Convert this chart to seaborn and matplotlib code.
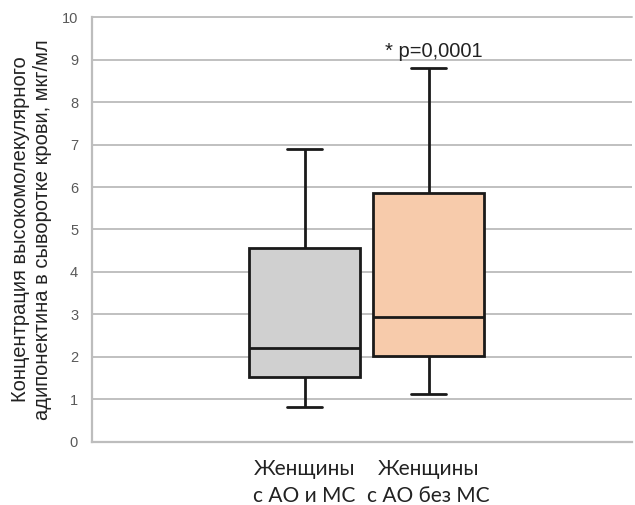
import pandas as pd
import numpy as np
import matplotlib
matplotlib.use('Agg')
import matplotlib.pyplot as plt
import seaborn as sns

# five-number summaries (min, Q1, median, Q3, max)
groups = ['Женщины\nс АО и МС', 'Женщины\nс АО без МС']
group1 = [0.82, 1.52, 2.2, 4.56, 6.9]
group2 = [1.12, 2.02, 2.95, 5.87, 8.8]
colors = ['#d0d0d0', '#f7cbab']
y_ticks = list(range(0, 11))
note = '* p=0,0001'

df = pd.DataFrame({
    'group': [groups[0]] * len(group1) + [groups[1]] * len(group2),
    'value': group1 + group2,
})

sns.set_style('white')
plt.rcParams['font.family'] = ['Liberation Sans', 'DejaVu Sans']

fig = plt.figure(figsize=(6.35, 5.05), dpi=100)
ax = fig.add_axes([0.1449, 0.1248, 0.8504, 0.8415])

sns.boxplot(data=df, x='group', y='value', hue='group', palette=colors,
            saturation=1, width=0.9, whis=(0, 100), linecolor='#1a1a1a',
            linewidth=2, legend=False, ax=ax, zorder=3)

# narrower whisker caps like the original
for ln in ax.lines:
    xd, yd = ln.get_xdata(), ln.get_ydata()
    if len(xd) == 2 and yd[0] == yd[1] and abs(xd[1] - xd[0]) < 0.6:
        c = (xd[0] + xd[1]) / 2
        ln.set_xdata([c - 0.14, c + 0.14])

ax.set_xlim(-1.714, 2.641)
ax.set_ylim(0, 10)
ax.set_yticks(y_ticks)
ax.yaxis.grid(True, color='#c0c0c0', linewidth=1.4, zorder=0)
ax.set_axisbelow(True)
for s in ['top', 'right']:
    ax.spines[s].set_visible(False)
for s in ['left', 'bottom']:
    ax.spines[s].set_color('#bdbdbd')
    ax.spines[s].set_linewidth(1.6)
ax.axhline(10, color='#c0c0c0', linewidth=1.4, zorder=0, clip_on=False)

ax.tick_params(axis='y', length=0, pad=10, labelsize=10.5, labelcolor='#595959')
ax.tick_params(axis='x', length=0, pad=12, labelsize=15, labelcolor='#222222')
for lab in ax.get_xticklabels():
    lab.set_family(['Lato', 'DejaVu Sans'])
    lab.set_linespacing(1.45)

ax.set_xlabel('')
ax.set_ylabel('Концентрация высокомолекулярного\nадипонектина в сыворотке крови, мкг/мл',
              fontsize=14.5, color='#222222', labelpad=7, linespacing=1.2)

ax.text(1.04, 9.2, note, ha='center', va='center', fontsize=14.5, color='#222222')

fig.savefig('out.png', dpi=100)
